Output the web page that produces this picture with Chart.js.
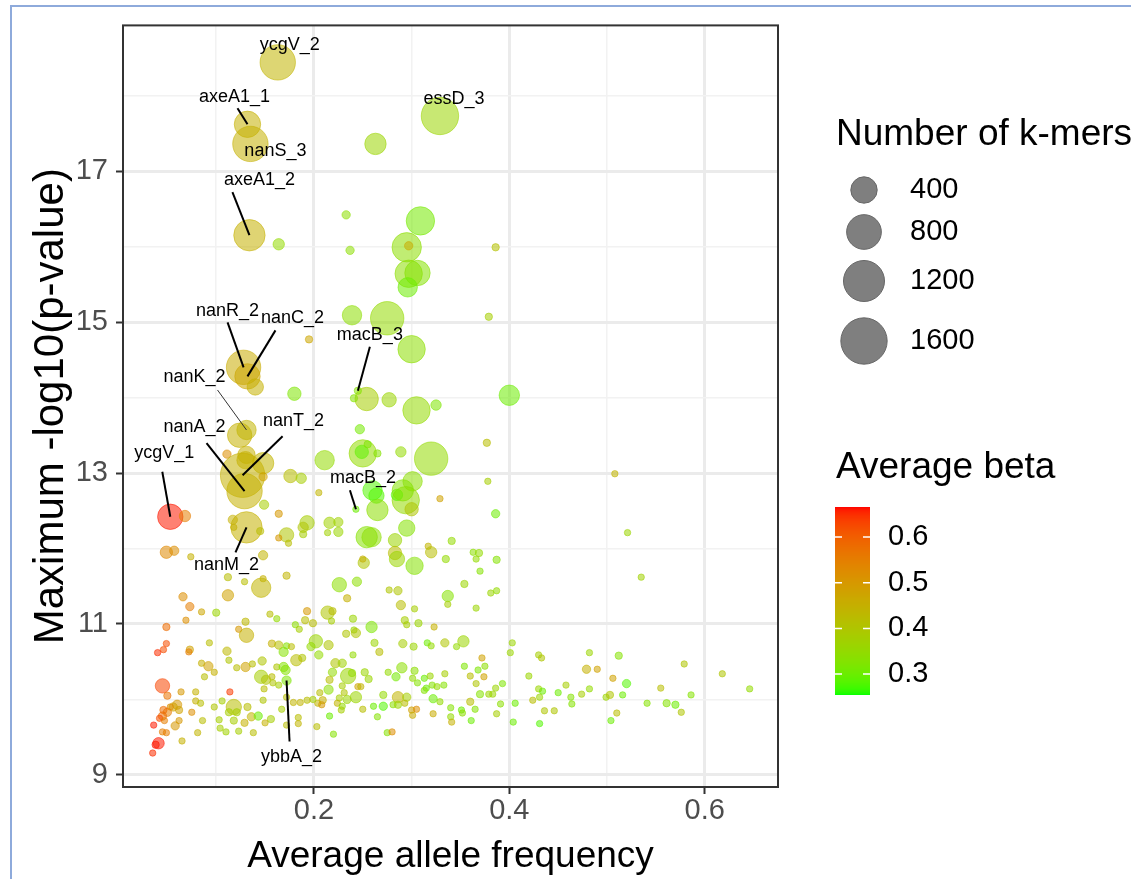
<!DOCTYPE html>
<html>
<head>
<meta charset="utf-8">
<script src="https://cdn.jsdelivr.net/npm/chart.js@4.4.1/dist/chart.umd.min.js"></script>
<style>
  html, body { margin: 0; padding: 0; background: #fff; }
  #frame { position: absolute; left: 10px; top: 5px; width: 1130px; height: 880px; border-left: 2px solid #8eaadb; border-top: 2px solid #8eaadb; }
  #wrap { position: absolute; left: 0; top: 0; width: 1131px; height: 879px; }
</style>
</head>
<body>
<div id="frame"></div>
<div id="wrap"><canvas id="chart" width="1131" height="879"></canvas></div>
<script>
// one entry per k-mer cluster
const alleleFreq = [
  0.163, 0.132, 0.135, 0.329, 0.263, 0.134, 0.164, 0.233, 0.237, 0.309,
  0.295, 0.297, 0.297, 0.306, 0.296, 0.386, 0.239, 0.275, 0.300, 0.195,
  0.379, 0.128, 0.132, 0.140, 0.180, 0.254, 0.245, 0.241, 0.277, 0.305,
  0.325, 0.400, 0.247, 0.250, 0.249, 0.255, 0.265, 0.289, 0.320, 0.377,
  0.378, 0.508, 0.329, 0.386, 0.301, 0.294, 0.300, 0.264, 0.265, 0.260,
  0.285, 0.291, 0.243, 0.225, 0.216, 0.254, 0.259, 0.211, 0.124, 0.131,
  0.111, 0.131, 0.148, 0.127, 0.129, 0.130, 0.148, 0.176, 0.187, 0.149,
  0.164, 0.205, 0.193, 0.189, 0.189, 0.225, 0.214, 0.172, 0.174, 0.164,
  0.131, 0.117, 0.118, 0.145, 0.148, 0.172, 0.283, 0.283, 0.295, 0.303,
  0.251, 0.250, 0.285, 0.317, 0.320, 0.341, 0.335, 0.363, 0.369, 0.366,
  0.370, 0.387, 0.244, 0.226, 0.234, 0.214, 0.219, 0.218, 0.193, 0.191,
  0.199, 0.181, 0.185, 0.240, 0.241, 0.233, 0.243, 0.259, 0.277, 0.286,
  0.289, 0.303, 0.293, 0.295, 0.307, 0.323, 0.337, 0.337, 0.354, 0.366,
  0.381, 0.387, 0.202, 0.197, 0.205, 0.215, 0.188, 0.222, 0.229, 0.240,
  0.262, 0.267, 0.291, 0.302, 0.316, 0.320, 0.334, 0.346, 0.353, 0.219,
  0.235, 0.239, 0.252, 0.256, 0.216, 0.215, 0.229, 0.231, 0.245, 0.248,
  0.276, 0.284, 0.290, 0.303, 0.301, 0.306, 0.313, 0.319, 0.315, 0.321,
  0.326, 0.333, 0.334, 0.243, 0.234, 0.226, 0.206, 0.209, 0.204, 0.199,
  0.193, 0.186, 0.179, 0.172, 0.208, 0.224, 0.229, 0.228, 0.216, 0.220,
  0.203, 0.184, 0.184, 0.271, 0.286, 0.295, 0.261, 0.271, 0.281, 0.286,
  0.293, 0.300, 0.305, 0.301, 0.265, 0.322, 0.340, 0.340, 0.341, 0.275,
  0.280, 0.403, 0.401, 0.430, 0.433, 0.372, 0.374, 0.368, 0.375, 0.354,
  0.360, 0.366, 0.370, 0.379, 0.383, 0.386, 0.393, 0.420, 0.430, 0.434,
  0.431, 0.424, 0.450, 0.406, 0.391, 0.387, 0.360, 0.365, 0.351, 0.361,
  0.352, 0.404, 0.431, 0.436, 0.446, 0.329, 0.322, 0.250, 0.313, 0.521,
  0.535, 0.482, 0.512, 0.479, 0.490, 0.506, 0.458, 0.463, 0.464, 0.474,
  0.482, 0.499, 0.503, 0.516, 0.520, 0.510, 0.504, 0.541, 0.555, 0.561,
  0.570, 0.576, 0.586, 0.579, 0.618, 0.646, 0.053, 0.068, 0.049, 0.057,
  0.074, 0.112, 0.129, 0.148, 0.146, 0.112, 0.066, 0.073, 0.085, 0.100,
  0.069, 0.049, 0.130, 0.123, 0.131, 0.155, 0.162, 0.049, 0.046, 0.040,
  0.073, 0.072, 0.093, 0.111, 0.113, 0.085, 0.092, 0.098, 0.088, 0.121,
  0.130, 0.137, 0.147, 0.146, 0.151, 0.157, 0.162, 0.169, 0.149, 0.158,
  0.164, 0.172, 0.171, 0.157, 0.164, 0.172, 0.177, 0.169, 0.182, 0.045,
  0.050, 0.064, 0.079, 0.114, 0.079, 0.084, 0.060, 0.056, 0.053, 0.050,
  0.046, 0.062, 0.045, 0.042, 0.047, 0.058, 0.062, 0.036, 0.045, 0.049,
  0.041, 0.038, 0.035, 0.065, 0.075, 0.081, 0.086, 0.098, 0.106, 0.103,
  0.110, 0.104, 0.118, 0.113, 0.121, 0.118, 0.123, 0.132, 0.136, 0.129,
  0.138, 0.143, 0.148, 0.156, 0.150, 0.167, 0.172
];

const maxLogP = [
  18.44, 17.62, 17.36, 17.73, 17.36, 16.15, 16.03, 16.42, 15.95, 16.34,
  15.99, 16.01, 15.64, 15.65, 15.46, 15.99, 15.09, 15.05, 14.64, 14.77,
  15.07, 14.40, 14.28, 14.14, 14.05, 13.98, 14.09, 13.99, 13.97, 13.83,
  13.90, 14.03, 13.58, 13.26, 13.28, 13.38, 13.26, 13.28, 13.19, 13.40,
  12.89, 12.99, 12.66, 12.46, 12.89, 12.64, 12.52, 12.70, 12.51, 12.77,
  12.71, 12.77, 12.52, 12.35, 12.34, 12.15, 12.15, 13.17, 13.50, 13.57,
  13.25, 13.24, 13.13, 12.97, 12.76, 13.17, 12.95, 12.96, 12.93, 12.58,
  12.46, 12.74, 12.34, 12.28, 12.19, 12.22, 12.21, 12.18, 12.07, 12.14,
  12.28, 12.38, 12.28, 12.23, 11.91, 11.64, 12.11, 11.94, 12.27, 11.77,
  11.81, 11.86, 11.86, 12.03, 11.95, 12.10, 11.86, 11.95, 11.94, 11.86,
  11.70, 11.85, 11.56, 11.52, 11.34, 11.15, 11.17, 11.04, 11.17, 11.05,
  11.01, 10.99, 10.93, 11.07, 10.92, 10.87, 10.88, 10.96, 11.45, 11.44,
  11.25, 11.20, 11.05, 10.99, 11.01, 10.96, 11.37, 11.26, 11.53, 11.21,
  11.41, 11.44, 10.77, 10.70, 10.59, 10.72, 10.55, 10.48, 10.48, 10.59,
  10.75, 10.63, 10.74, 10.70, 10.75, 10.71, 10.75, 10.70, 10.77, 10.36,
  10.31, 10.35, 10.36, 10.27, 10.26, 10.13, 10.18, 10.09, 10.17, 10.17,
  10.36, 10.30, 10.42, 10.38, 10.28, 10.22, 10.28, 10.31, 10.15, 10.19,
  10.17, 10.19, 10.34, 10.03, 10.00, 10.02, 10.09, 9.99, 9.95, 10.00,
  9.99, 9.96, 9.96, 10.03, 9.93, 9.95, 9.91, 9.86, 9.78, 9.54,
  9.64, 9.76, 9.68, 10.06, 10.03, 10.03, 9.91, 9.91, 9.93, 9.93,
  9.95, 9.86, 9.87, 9.79, 9.77, 9.81, 9.89, 9.77, 9.70, 9.56,
  9.57, 10.75, 10.62, 10.59, 10.55, 10.55, 10.30, 10.39, 10.44, 10.44,
  10.31, 10.21, 10.07, 10.07, 10.07, 10.15, 10.21, 10.31, 10.14, 10.11,
  10.03, 9.99, 10.09, 9.95, 9.94, 9.81, 9.97, 9.87, 9.86, 9.72,
  9.82, 9.70, 9.68, 9.85, 9.85, 9.97, 10.01, 9.87, 10.12, 12.21,
  11.62, 10.62, 10.58, 10.40, 10.40, 10.28, 10.19, 10.03, 9.94, 10.07,
  10.14, 10.03, 10.06, 10.06, 10.21, 9.82, 9.72, 9.95, 10.15, 9.95,
  9.93, 9.83, 10.06, 10.47, 10.34, 10.14, 12.42, 12.43, 11.95, 11.97,
  11.89, 11.62, 11.56, 11.60, 11.48, 11.38, 11.36, 11.23, 11.16, 11.15,
  11.05, 10.96, 11.03, 10.93, 10.85, 11.13, 11.07, 10.74, 10.66, 10.62,
  10.66, 10.63, 10.75, 10.64, 10.52, 10.48, 10.44, 10.36, 10.30, 10.42,
  10.43, 10.47, 10.51, 10.30, 10.26, 10.30, 10.43, 10.43, 10.14, 10.22,
  10.19, 10.25, 10.39, 10.74, 10.72, 10.71, 10.70, 10.63, 10.52, 10.18,
  10.05, 10.10, 10.10, 10.10, 9.98, 9.95, 9.93, 9.90, 9.90, 9.83,
  9.86, 9.86, 9.78, 9.75, 9.72, 9.65, 9.72, 9.66, 9.57, 9.56,
  9.42, 9.40, 9.29, 9.45, 9.83, 9.56, 9.72, 9.90, 9.98, 9.73,
  9.57, 9.62, 9.90, 9.83, 9.83, 9.72, 9.58, 9.90, 9.77, 9.69,
  9.56, 9.78, 9.99, 9.74, 9.69, 9.87, 9.66
];

const kmerCount = [
  900, 441, 900, 1025, 259, 676, 51, 29, 29, 529,
  576, 29, 484, 401, 201, 26, 201, 784, 484, 26,
  26, 841, 401, 129, 76, 326, 26, 26, 92, 484,
  42, 230, 34, 484, 76, 26, 26, 42, 784, 26,
  25, 25, 25, 29, 201, 484, 76, 109, 259, 201,
  51, 259, 25, 34, 51, 259, 201, 201, 362, 201,
  29, 151, 259, 1528, 900, 151, 29, 76, 42, 34,
  26, 25, 92, 42, 26, 34, 25, 92, 25, 25,
  676, 34, 25, 26, 34, 26, 76, 76, 129, 151,
  51, 25, 109, 25, 51, 26, 26, 25, 26, 25,
  25, 26, 34, 92, 26, 76, 26, 25, 26, 26,
  26, 25, 25, 26, 25, 26, 34, 51, 25, 29,
  34, 25, 26, 25, 26, 25, 51, 25, 26, 25,
  25, 25, 76, 29, 29, 34, 26, 34, 29, 25,
  26, 26, 29, 26, 25, 25, 29, 25, 51, 29,
  109, 26, 26, 26, 26, 34, 25, 25, 25, 25,
  25, 29, 42, 26, 25, 25, 25, 25, 25, 25,
  25, 25, 25, 51, 29, 25, 25, 26, 25, 25,
  25, 25, 25, 25, 25, 25, 25, 25, 25, 25,
  25, 25, 25, 26, 51, 29, 25, 29, 25, 26,
  25, 25, 25, 25, 25, 25, 25, 25, 25, 25,
  25, 25, 25, 25, 25, 25, 25, 25, 25, 25,
  25, 25, 26, 25, 25, 25, 25, 25, 25, 25,
  25, 25, 25, 25, 25, 25, 26, 25, 25, 25,
  25, 25, 25, 25, 25, 25, 29, 25, 25, 25,
  25, 25, 26, 29, 25, 25, 25, 25, 25, 25,
  25, 25, 26, 25, 29, 25, 25, 25, 25, 26,
  26, 25, 25, 25, 25, 25, 401, 51, 62, 34,
  25, 26, 25, 25, 201, 51, 29, 29, 25, 26,
  25, 26, 26, 25, 92, 25, 25, 25, 25, 25,
  26, 25, 25, 29, 25, 25, 34, 25, 25, 25,
  34, 25, 29, 76, 34, 25, 25, 34, 25, 25,
  25, 34, 34, 26, 29, 25, 25, 34, 51, 92,
  26, 25, 25, 25, 25, 25, 34, 29, 25, 29,
  26, 26, 29, 25, 25, 29, 25, 25, 25, 25,
  51, 26, 25, 25, 25, 25, 25, 25, 25, 25,
  25, 25, 109, 26, 26, 26, 25, 26, 29, 26,
  25, 29, 25, 26, 25, 25, 25
];

const avgBeta = [
  0.44, 0.45, 0.45, 0.36, 0.36, 0.45, 0.35, 0.34, 0.34, 0.31,
  0.34, 0.46, 0.34, 0.33, 0.30, 0.41, 0.34, 0.35, 0.34, 0.47,
  0.38, 0.46, 0.47, 0.45, 0.32, 0.38, 0.33, 0.33, 0.36, 0.35,
  0.32, 0.30, 0.31, 0.35, 0.29, 0.32, 0.33, 0.35, 0.35, 0.42,
  0.38, 0.44, 0.48, 0.30, 0.34, 0.35, 0.40, 0.28, 0.34, 0.28,
  0.28, 0.33, 0.30, 0.37, 0.37, 0.33, 0.34, 0.35, 0.45, 0.44,
  0.52, 0.45, 0.44, 0.45, 0.45, 0.45, 0.48, 0.42, 0.38, 0.38,
  0.50, 0.44, 0.38, 0.40, 0.38, 0.36, 0.37, 0.40, 0.42, 0.50,
  0.45, 0.45, 0.45, 0.42, 0.44, 0.44, 0.36, 0.42, 0.33, 0.33,
  0.40, 0.45, 0.36, 0.44, 0.42, 0.35, 0.35, 0.34, 0.35, 0.35,
  0.33, 0.33, 0.34, 0.34, 0.45, 0.40, 0.42, 0.38, 0.50, 0.42,
  0.42, 0.34, 0.38, 0.36, 0.36, 0.40, 0.40, 0.32, 0.40, 0.40,
  0.42, 0.38, 0.38, 0.38, 0.36, 0.45, 0.33, 0.38, 0.36, 0.36,
  0.36, 0.35, 0.36, 0.35, 0.35, 0.40, 0.40, 0.40, 0.37, 0.35,
  0.36, 0.42, 0.38, 0.36, 0.30, 0.35, 0.40, 0.35, 0.36, 0.35,
  0.36, 0.35, 0.36, 0.36, 0.42, 0.34, 0.38, 0.40, 0.47, 0.44,
  0.35, 0.31, 0.34, 0.34, 0.35, 0.33, 0.30, 0.36, 0.30, 0.33,
  0.35, 0.33, 0.38, 0.36, 0.36, 0.38, 0.42, 0.45, 0.44, 0.38,
  0.42, 0.44, 0.44, 0.42, 0.50, 0.44, 0.35, 0.38, 0.30, 0.33,
  0.42, 0.42, 0.44, 0.35, 0.44, 0.38, 0.30, 0.28, 0.34, 0.36,
  0.42, 0.48, 0.52, 0.46, 0.33, 0.46, 0.33, 0.35, 0.45, 0.33,
  0.52, 0.36, 0.36, 0.38, 0.40, 0.48, 0.48, 0.32, 0.34, 0.32,
  0.42, 0.40, 0.33, 0.36, 0.36, 0.36, 0.32, 0.36, 0.36, 0.30,
  0.36, 0.42, 0.30, 0.30, 0.34, 0.38, 0.42, 0.33, 0.30, 0.30,
  0.34, 0.30, 0.28, 0.40, 0.40, 0.35, 0.30, 0.42, 0.33, 0.36,
  0.37, 0.36, 0.33, 0.45, 0.48, 0.48, 0.38, 0.33, 0.33, 0.38,
  0.35, 0.36, 0.40, 0.30, 0.28, 0.42, 0.30, 0.33, 0.42, 0.33,
  0.30, 0.40, 0.33, 0.40, 0.40, 0.35, 0.66, 0.55, 0.53, 0.52,
  0.45, 0.42, 0.42, 0.45, 0.44, 0.48, 0.52, 0.55, 0.47, 0.36,
  0.52, 0.58, 0.43, 0.50, 0.45, 0.42, 0.35, 0.62, 0.62, 0.65,
  0.48, 0.55, 0.42, 0.43, 0.40, 0.45, 0.48, 0.45, 0.42, 0.42,
  0.48, 0.42, 0.40, 0.38, 0.40, 0.42, 0.40, 0.33, 0.42, 0.40,
  0.38, 0.32, 0.33, 0.45, 0.42, 0.33, 0.42, 0.33, 0.42, 0.63,
  0.57, 0.50, 0.45, 0.64, 0.45, 0.42, 0.50, 0.48, 0.52, 0.55,
  0.58, 0.48, 0.58, 0.62, 0.55, 0.50, 0.50, 0.66, 0.55, 0.55,
  0.66, 0.66, 0.65, 0.45, 0.52, 0.44, 0.42, 0.40, 0.38, 0.38,
  0.37, 0.38, 0.42, 0.38, 0.38, 0.38, 0.38, 0.42, 0.44, 0.45,
  0.42, 0.30, 0.40, 0.38, 0.45, 0.38, 0.42
];

// labelled genes and which point they belong to
const labelGenes = ["ycgV_2", "axeA1_1", "nanS_3", "essD_3", "axeA1_2", "nanR_2", "nanC_2", "nanK_2",
  "macB_3", "nanA_2", "nanT_2", "ycgV_1", "macB_2", "nanM_2", "ybbA_2"];
const labelPoint = [0, 1, 2, 3, 5, 21, 22, 59, 26, 64, 63, 276, 52, 80, 321];

// axis ticks
const xTicks = [0.1, 0.2, 0.3, 0.4, 0.5, 0.6];
const xLabelled = [0.2, 0.4, 0.6];
const yTicks = [9, 10, 11, 12, 13, 14, 15, 16, 17, 18];
const yLabelled = [9, 11, 13, 15, 17];
const xRange = [0.0046, 0.675];
const yRange = [8.84, 18.93];

// legend breaks
const sizeBreaks = [400, 800, 1200, 1600];
const betaBreaks = [0.3, 0.4, 0.5, 0.6];
const betaLimits = [0.254, 0.666];

// label placement (pixel offsets from the point)
const labelOffsets = {
	ycgV_2: { text: [12, -17] },
	axeA1_1: { text: [-13, -27], line: [-10, -16] },
	nanS_3: { text: [25, 7] },
	essD_3: { text: [14, -17] },
	axeA1_2: { text: [10, -55], line: [-17, -43] },
	nanR_2: { text: [-16, -56], line: [-16, -45] },
	nanC_2: { text: [45, -58], line: [28, -46] },
	nanK_2: { text: [-52, -53], line: [-29, -40], thin: true },
	macB_3: { text: [12, -56], line: [12, -44] },
	nanA_2: { text: [-50, -64], line: [-38, -48] },
	nanT_2: { text: [51, -54], line: [40, -39] },
	ycgV_1: { text: [-6, -64], line: [-8, -45] },
	macB_2: { text: [7, -31], line: [-6, -19] },
	nanM_2: { text: [-20, 38], line: [-11, 25] },
	ybbA_2: { text: [5, 76], line: [3, 61] },
};

const FONT = '"Liberation Sans", Arial, sans-serif';
Chart.defaults.font.family = FONT;

// green -> red, interpolated in Lab like ggplot does
function lin(c) {
	c /= 255;
	return c <= 0.04045 ? c / 12.92 : Math.pow((c + 0.055) / 1.055, 2.4);
}
function toLab(rgb) {
	const [R, G, B] = rgb.map(lin);
	const X = (0.4124 * R + 0.3576 * G + 0.1805 * B) / 0.95047;
	const Y = 0.2126 * R + 0.7152 * G + 0.0722 * B;
	const Z = (0.0193 * R + 0.1192 * G + 0.9505 * B) / 1.08883;
	const f = (t) => (t > 0.008856 ? Math.cbrt(t) : 7.787 * t + 16 / 116);
	return [116 * f(Y) - 16, 500 * (f(X) - f(Y)), 200 * (f(Y) - f(Z))];
}
function fromLab(lab) {
	const fy = (lab[0] + 16) / 116;
	const fx = fy + lab[1] / 500;
	const fz = fy - lab[2] / 200;
	const inv = (t) => (t * t * t > 0.008856 ? t * t * t : (t - 16 / 116) / 7.787);
	const X = inv(fx) * 0.95047, Y = inv(fy), Z = inv(fz) * 1.08883;
	const rgb = [
		3.2406 * X - 1.5372 * Y - 0.4986 * Z,
		-0.9689 * X + 1.8758 * Y + 0.0415 * Z,
		0.0557 * X - 0.204 * Y + 1.057 * Z,
	];
	return rgb.map((c) => {
		c = c <= 0.0031308 ? 12.92 * c : 1.055 * Math.pow(c, 1 / 2.4) - 0.055;
		return Math.round(Math.min(1, Math.max(0, c)) * 255);
	});
}
const lowLab = toLab([0, 255, 0]);
const highLab = toLab([255, 0, 0]);
function betaColor(b, alpha) {
	let t = (b - betaLimits[0]) / (betaLimits[1] - betaLimits[0]);
	t = Math.min(1, Math.max(0, t));
	const c = fromLab(lowLab.map((v, i) => v + (highLab[i] - v) * t));
	return `rgba(${c[0]},${c[1]},${c[2]},${alpha})`;
}

function kmerRadius(k) {
	return 3.2 + 0.49 * Math.sqrt(Math.max(0, k - 25));
}

function isIn(v, list) {
	return list.some((m) => Math.abs(m - v) < 1e-6);
}

const points = alleleFreq.map((x, i) => ({ x: x, y: maxLogP[i], r: kmerRadius(kmerCount[i]) }));
const fills = avgBeta.map((b) => betaColor(b, 0.55));

// gene labels, then the panel frame on top of the points
const panelPlugin = {
	id: "panelFrame",
	afterDatasetsDraw(chart) {
		const { ctx, chartArea: a } = chart;
		const meta = chart.getDatasetMeta(0);
		ctx.save();
		ctx.font = "18px " + FONT;
		ctx.textAlign = "center";
		ctx.textBaseline = "middle";
		ctx.fillStyle = "#000";
		labelGenes.forEach((name, i) => {
			const el = meta.data[labelPoint[i]];
			const o = labelOffsets[name];
			if (o.line) {
				ctx.beginPath();
				ctx.strokeStyle = o.thin ? "#333" : "#000";
				ctx.lineWidth = o.thin ? 1 : 2;
				ctx.moveTo(el.x + o.line[0], el.y + o.line[1]);
				ctx.lineTo(el.x, el.y);
				ctx.stroke();
			}
			ctx.fillText(name, el.x + o.text[0], el.y + o.text[1]);
		});
		ctx.strokeStyle = "#333";
		ctx.lineWidth = 2;
		ctx.strokeRect(a.left, a.top, a.right - a.left, a.bottom - a.top);
		ctx.restore();
	},
};

const legendPlugin = {
	id: "sideLegend",
	afterDraw(chart) {
		const ctx = chart.ctx;
		ctx.save();
		ctx.textBaseline = "middle";
		ctx.textAlign = "left";
		ctx.fillStyle = "#000";

		// size legend
		ctx.font = "37px " + FONT;
		ctx.fillText("Number of k-mers", 836, 135);
		const rowY = [190, 232, 281, 341];
		ctx.font = "29px " + FONT;
		sizeBreaks.forEach((k, i) => {
			ctx.beginPath();
			ctx.arc(864, rowY[i], kmerRadius(k) + 0.5, 0, Math.PI * 2);
			ctx.fillStyle = "#7f7f7f";
			ctx.fill();
			ctx.strokeStyle = "#666";
			ctx.lineWidth = 1;
			ctx.stroke();
			ctx.fillStyle = "#000";
			ctx.fillText(String(k), 910, rowY[i]);
		});

		// colour bar
		ctx.font = "37px " + FONT;
		ctx.fillText("Average beta", 836, 468);
		const bar = { left: 835, top: 507, w: 35, h: 188 };
		for (let j = 0; j < bar.h; j++) {
			const v = betaLimits[1] - ((j + 0.5) / bar.h) * (betaLimits[1] - betaLimits[0]);
			ctx.fillStyle = betaColor(v, 1);
			ctx.fillRect(bar.left, bar.top + j, bar.w, 1);
		}
		ctx.font = "29px " + FONT;
		betaBreaks.forEach((b) => {
			const y = bar.top + ((betaLimits[1] - b) / (betaLimits[1] - betaLimits[0])) * bar.h;
			ctx.strokeStyle = "#fff";
			ctx.lineWidth = 1.5;
			ctx.beginPath();
			ctx.moveTo(bar.left, y);
			ctx.lineTo(bar.left + 7, y);
			ctx.moveTo(bar.left + bar.w - 7, y);
			ctx.lineTo(bar.left + bar.w, y);
			ctx.stroke();
			ctx.fillStyle = "#000";
			ctx.fillText(b.toFixed(1), 888, y);
		});
		ctx.restore();
	},
};

function gridColor(list) {
	return (c) => (c.tick && isIn(c.tick.value, list) ? "#ebebeb" : "#f2f2f2");
}
function gridWidth(list) {
	return (c) => (c.tick && isIn(c.tick.value, list) ? 3 : 1.5);
}
function tickColor(list) {
	return (c) => (c.tick && isIn(c.tick.value, list) ? "#333" : "rgba(0,0,0,0)");
}

new Chart(document.getElementById("chart"), {
	type: "bubble",
	data: {
		datasets: [
			{
				data: points,
				backgroundColor: fills,
				borderColor: fills,
				borderWidth: 1,
			},
		],
	},
	options: {
		responsive: false,
		animation: false,
		events: [],
		layout: { padding: { top: 25, right: 353, bottom: 0, left: 0 } },
		plugins: {
			legend: { display: false },
			tooltip: { enabled: false },
		},
		scales: {
			x: {
				type: "linear",
				min: xRange[0],
				max: xRange[1],
				afterBuildTicks: (s) => {
					s.ticks = xTicks.map((v) => ({ value: v }));
				},
				afterFit: (s) => {
					s.height = 92;
				},
				ticks: {
					callback: (v) => (isIn(v, xLabelled) ? v.toFixed(1) : ""),
					color: "#4d4d4d",
					font: { size: 29 },
					padding: 0,
					maxRotation: 0,
					autoSkip: false,
				},
				grid: {
					color: gridColor(xLabelled),
					lineWidth: gridWidth(xLabelled),
					tickColor: tickColor(xLabelled),
					tickLength: 7,
					tickWidth: 2,
				},
				border: { display: false },
				title: {
					display: true,
					text: "Average allele frequency",
					color: "#000",
					font: { size: 37 },
					padding: { top: 0, bottom: 0 },
				},
			},
			y: {
				type: "linear",
				min: yRange[0],
				max: yRange[1],
				afterBuildTicks: (s) => {
					s.ticks = yTicks.map((v) => ({ value: v }));
				},
				afterFit: (s) => {
					s.width = 123;
				},
				ticks: {
					callback: (v) => (isIn(v, yLabelled) ? String(v) : ""),
					color: "#4d4d4d",
					font: { size: 29 },
					padding: 8,
					autoSkip: false,
				},
				grid: {
					color: gridColor(yLabelled),
					lineWidth: gridWidth(yLabelled),
					tickColor: tickColor(yLabelled),
					tickLength: 7,
					tickWidth: 2,
				},
				border: { display: false },
				title: {
					display: true,
					text: "Maximum -log10(p-value)",
					color: "#000",
					font: { size: 42 },
					padding: { top: 26, bottom: 0 },
				},
			},
		},
	},
	plugins: [panelPlugin, legendPlugin],
});
</script>
</body>
</html>
